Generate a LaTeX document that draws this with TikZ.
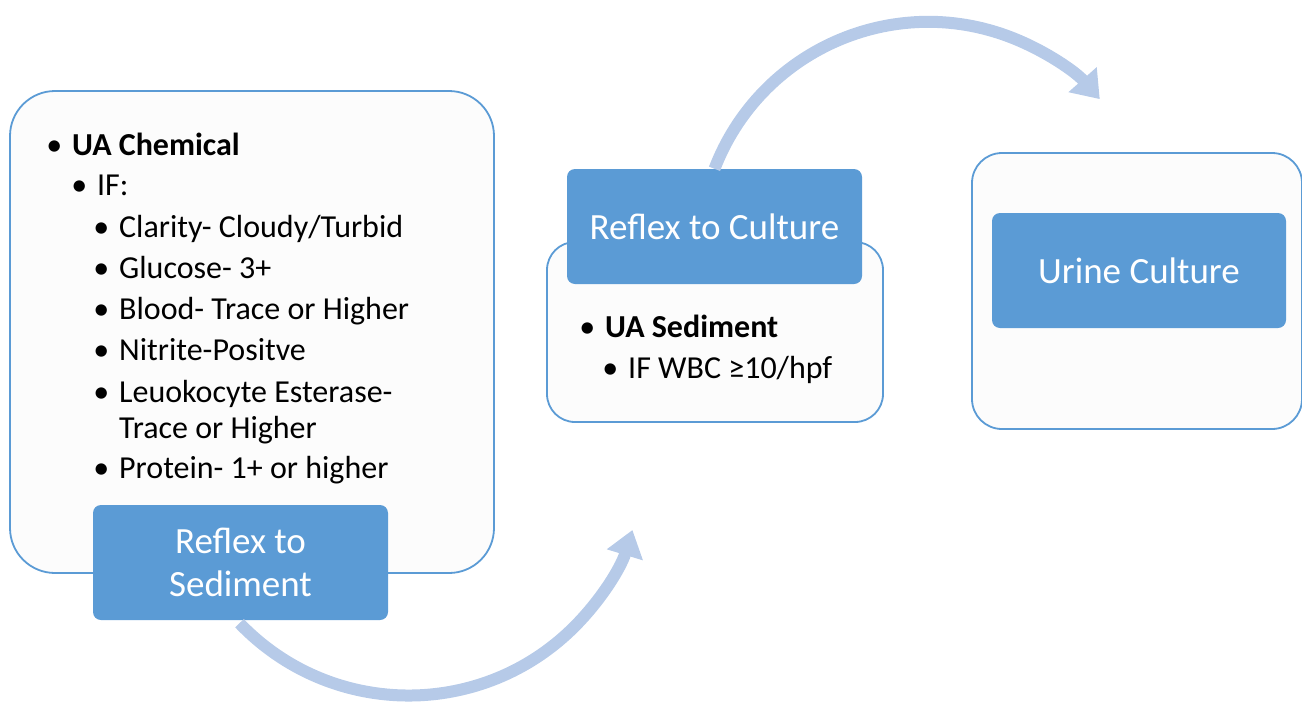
\documentclass[tikz,border=0pt]{standalone}
\usepackage{fontspec}
\setmainfont{Carlito}
\usetikzlibrary{arrows.meta}
\definecolor{accent}{RGB}{91,155,213}
\definecolor{paper}{RGB}{252,252,252}
\definecolor{flow}{RGB}{182,202,232}
\tikzset{
  outerbox/.style={draw=accent, line width=1.8pt, fill=paper, rounded corners=#1, inner sep=0pt},
  headbox/.style={fill=accent, rounded corners=8pt, text=white, align=center, inner sep=0pt,
    font=\fontsize{37}{43}\selectfont},
  item/.style={anchor=base west, inner sep=0pt, font=\fontsize{32}{36}\selectfont, text=black},
  bigarrow/.style={draw=flow, line width=12pt, -{Triangle[width=36pt,length=26pt]}},
}
\newcommand{\bul}{\llap{\textbullet\hspace{10pt}}}
\begin{document}
\begin{tikzpicture}[x=1pt,y=-1pt]
\useasboundingbox (0,0) rectangle (1302,702);
% outer boxes
\node[outerbox=45pt, minimum width=484pt, minimum height=482pt] (chem) at (252,332) {};
\node[outerbox=28pt, minimum width=336pt, minimum height=180pt] (sedbox) at (715,332) {};
\node[outerbox=30pt, minimum width=330pt, minimum height=276pt] (urbox) at (1137,291) {};
% left list
\node[item] (l1) at (72,155) {\bul\textbf{UA Chemical}};
\node[item] (l2) at (97,195) {\bul IF:};
\node[item] (l3) at (119,237) {\bul Clarity- Cloudy/Turbid};
\node[item] (l4) at (119,278) {\bul Glucose- 3+};
\node[item] (l5) at (119,319) {\bul Blood- Trace or Higher};
\node[item] (l6) at (119,360) {\bul Nitrite-Positve};
\node[item] (l7) at (119,402) {\bul Leuokocyte Esterase-};
\node[item] (l8) at (119,438) {Trace or Higher};
\node[item] (l9) at (119,478) {\bul Protein- 1+ or higher};
% middle list
\node[item] (m1) at (605,337) {\bul\textbf{UA Sediment}};
\node[item] (m2) at (628,378) {\bul IF WBC ≥10/hpf};
% header boxes
\node[headbox, minimum width=295pt, minimum height=115pt] (sed) at (240.5,562.5) {Reflex to\\Sediment};
\node[headbox, minimum width=295pt, minimum height=115pt] (cul) at (714.5,226.5) {Reflex to Culture};
\node[headbox, minimum width=294pt, minimum height=115pt] (uri) at (1139,270.5) {Urine Culture};
% arrows
\draw[bigarrow] ([xshift=-1pt,yshift=-3pt]sed.south) arc[start angle=136.3, end angle=17, radius=234];
\draw[bigarrow] (cul.north) arc[start angle=-159, end angle=-41.5, radius=229];
\end{tikzpicture}
\end{document}
